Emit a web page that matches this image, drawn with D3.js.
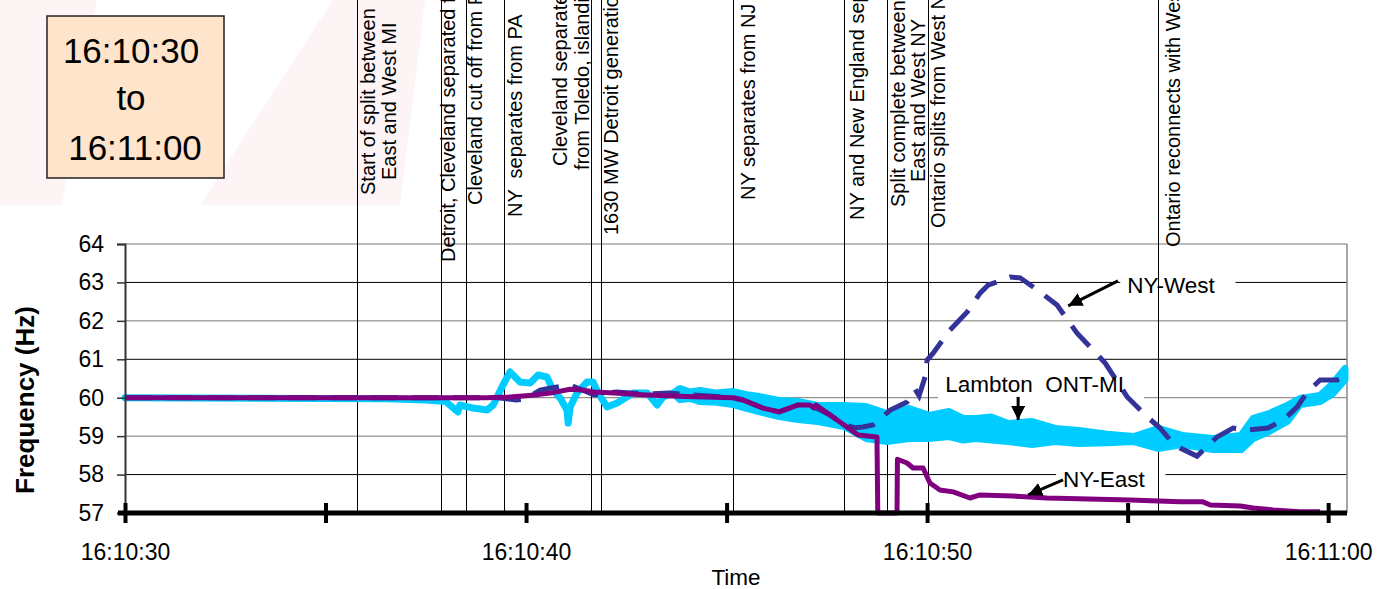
<!DOCTYPE html>
<html lang="en">
  <head>
    <meta charset="utf-8">
    <title>Frequency 16:10:30 to 16:11:00</title>
    <script src="https://cdn.jsdelivr.net/npm/d3@7"></script>
    <style>
      body { margin: 0; background: #fff; }
      svg { display: block; font-family: 'Liberation Sans', Arial, sans-serif; }
      text { white-space: pre; }
    </style>
  </head>
  <body>
    <div id="chart"></div>
    <script>
      // time is in seconds after 16:10:30
      const yTicks = [57, 58, 59, 60, 61, 62, 63, 64]
      const xTicks = [0, 5, 10, 15, 20, 25, 30]
      const xTickLabels = ['16:10:30', '', '16:10:40', '', '16:10:50', '', '16:11:00']

      const eventTimes = [5.79, 7.88, 8.5, 9.45, 11.62, 11.87, 15.16, 17.93, 19.0, 20.02, 25.76]
      const eventNotes = [
        ['Start of split between', 'East and West MI'],
        ['Detroit, Cleveland separated from West MI'],
        ['Cleveland cut off from PA'],
        ['NY  separates from PA'],
        ['Cleveland separates', 'from Toledo, islanding Cleveland'],
        ['1630 MW Detroit generation trips'],
        ['NY separates from NJ'],
        ['NY and New England separate'],
        ['Split complete between', 'East and West NY'],
        ['Ontario splits from West NY'],
        ['Ontario reconnects with West NY']
      ]

      // Lambton ONT-MI: lower / upper edge of the trace (equal where it is a thin line)
      const lambtonT = [0, 6.5, 7.5, 8.0, 8.3, 8.35, 8.68, 9.03, 9.18, 9.4, 9.6, 9.85, 10.1, 10.3, 10.52,
        10.67, 10.85, 11.02, 11.05, 11.1, 11.27, 11.52, 11.67, 11.8, 12.02, 12.27, 12.67, 13.02, 13.27,
        13.42, 13.67, 13.84, 14.09, 14.34, 14.75, 15.16, 15.5, 15.81, 16.31, 16.78, 17.28, 17.93, 18.48,
        19.0, 19.55, 20.05, 20.55, 20.9, 21.22, 21.6, 22.02, 22.62, 23.19, 23.79, 24.49, 25.16, 25.76,
        26.36, 27.13, 27.83, 28.13, 28.53, 28.98, 29.3, 29.8, 30.12, 30.42]
      const lambtonLo = [60.0, 59.97, 59.94, 59.9, 59.63, 59.81, 59.73, 59.68, 59.81, 60.28, 60.67, 60.41,
        60.38, 60.59, 60.54, 60.2, 59.99, 59.68, 59.34, 59.76, 60.12, 60.41, 60.41, 60.12, 59.76, 59.86,
        60.12, 60.12, 59.81, 60.02, 60.12, 59.95, 59.98, 59.9, 59.88, 59.82, 59.72, 59.64, 59.51, 59.43,
        59.38, 59.25, 58.94, 58.86, 58.94, 58.94, 58.99, 58.9, 58.94, 58.9, 58.86, 58.78, 58.86, 58.81,
        58.83, 58.86, 58.68, 58.78, 58.65, 58.65, 58.94, 59.12, 59.38, 59.82, 59.9, 60.11, 60.47]
      const lambtonHi = [60.0, 59.97, 59.94, 59.9, 59.63, 59.81, 59.73, 59.68, 59.81, 60.28, 60.67, 60.41,
        60.38, 60.59, 60.54, 60.2, 59.99, 59.68, 59.34, 59.76, 60.12, 60.41, 60.41, 60.12, 59.76, 59.86,
        60.12, 60.12, 59.81, 60.02, 60.12, 60.24, 60.15, 60.19, 60.12, 60.16, 60.08, 60.03, 59.93, 59.9,
        59.8, 59.8, 59.77, 59.59, 59.72, 59.54, 59.64, 59.46, 59.46, 59.5, 59.33, 59.38, 59.2, 59.15, 59.05,
        58.99, 59.2, 59.02, 58.94, 59.02, 59.46, 59.59, 59.8, 59.98, 60.06, 60.37, 60.76]

      // NY-West
      const nyWestT = [0, 9.3, 9.75, 10.0, 10.35, 10.6, 11.1, 11.7, 12.25, 13.0, 13.55, 15.16, 15.41,
        15.91, 16.31, 16.78, 17.08, 17.58, 17.93, 18.2, 18.4, 18.65, 19.08, 19.5, 19.7, 19.8, 19.95, 20.0,
        20.15, 20.57, 21.0, 21.32, 21.52, 22.07, 22.32, 22.82, 23.24, 23.74, 24.14, 24.44, 24.99, 25.49,
        25.81, 26.06, 26.31, 26.73, 27.23, 27.63, 27.98, 28.5, 28.88, 29.23, 29.48, 29.8, 30.22, 30.42]
      const nyWestHz = [60.0, 60.0, 59.94, 59.97, 60.2, 60.25, 60.33, 60.07, 60.15, 60.1, 60.12, 60.0,
        59.94, 59.73, 59.63, 59.81, 59.81, 59.55, 59.29, 59.22, 59.24, 59.29, 59.68, 59.89, 60.22, 60.05,
        60.54, 60.98, 61.16, 61.76, 62.23, 62.72, 62.93, 63.14, 63.12, 62.75, 62.41, 61.68, 61.24, 60.9,
        60.02, 59.5, 59.21, 58.9, 58.69, 58.48, 58.98, 59.21, 59.16, 59.21, 59.42, 59.76, 60.15, 60.46,
        60.46, 60.54]

      // NY-East
      const nyEastT = [0, 9.0, 9.6, 10.3, 10.6, 11.1, 11.4, 11.7, 12.2, 13.0, 14.0, 15.16, 15.41, 15.91,
        16.31, 16.78, 17.08, 17.18, 17.23, 17.58, 17.93, 18.28, 18.75, 18.77, 19.25, 19.26, 19.5, 19.65,
        19.9, 20.07, 20.32, 20.65, 21.07, 21.32, 22.14, 22.99, 25.06, 26.31, 26.88, 27.06, 27.81, 28.13,
        28.63, 29.3, 29.8]
      const nyEastHz = [60.0, 60.0, 60.02, 60.08, 60.12, 60.22, 60.2, 60.15, 60.12, 60.07, 60.03, 60.0,
        59.94, 59.73, 59.63, 59.81, 59.81, 59.73, 59.81, 59.55, 59.29, 59.03, 58.98, 57.0, 57.0, 58.4,
        58.3, 58.17, 58.17, 57.78, 57.6, 57.55, 57.39, 57.47, 57.44, 57.39, 57.34, 57.29, 57.29, 57.21,
        57.18, 57.13, 57.08, 57.03, 57.03]

      const colors = { lambton: '#00ccff', west: '#333399', east: '#800080' }

      // rotated note layout: [offset from event line, bottom of text] per text line
      const noteLayout = [
        [[11, 195], [32, 180]], [[7, 262]], [[9, 205]], [[11, 217]], [[-31, 166], [-9, 170]],
        [[10, 235]], [[15, 200]], [[13, 220]], [[11, 207], [31, 182]], [[10, 228]], [[15, 247]]
      ]
      // series callouts, in data units: label start, arrow from -> to
      const callouts = [
        { text: 'NY-West', t: 24.99, hz: 62.72, from: [24.76, 63.04], to: [23.52, 62.39] },
        { text: 'Lambton  ONT-MI', t: 20.45, hz: 60.15, from: [22.27, 60.02], to: [22.27, 59.42] },
        { text: 'NY-East', t: 23.39, hz: 57.68, from: [23.39, 57.86], to: [22.52, 57.47] }
      ]

      const W = 1378, H = 589
      const svg = d3.select('#chart').append('svg')
        .attr('width', W)
        .attr('height', H)

      const x = d3.scaleLinear().domain([0, 30.47]).range([125, 1347])
      const y = d3.scaleLinear().domain([57, 64]).range([513, 244])

      // faint slide background at the top left
      svg.append('polygon').attr('points', '0,0 97,0 62,205 0,205').attr('fill', '#fdf5f5')
      svg.append('polygon').attr('points', '333,0 425,0 400,205 200,205').attr('fill', '#fdf5f5')

      // time range box
      svg.append('rect')
        .attr('x', 47).attr('y', 16).attr('width', 177).attr('height', 162)
        .attr('fill', '#ffe4cc').attr('stroke', '#222').attr('stroke-width', 1.5)
      const boxText = [['16:10:30', 131, 63], ['to', 131, 110], ['16:11:00', 135, 160]]
      svg.selectAll('text.box').data(boxText).enter().append('text')
        .attr('class', 'box')
        .attr('x', d => d[1]).attr('y', d => d[2])
        .attr('text-anchor', 'middle')
        .attr('font-size', 35)
        .text(d => d[0])

      // horizontal gridlines
      svg.selectAll('line.grid')
        .data(yTicks.slice(1)).enter().append('line')
        .attr('class', 'grid')
        .attr('x1', x(0)).attr('x2', x.range()[1])
        .attr('y1', d => y(d)).attr('y2', d => y(d))
        .attr('stroke', d => (d === 63 || d === 61 || d === 58) ? '#000' : '#777')
        .attr('stroke-width', 1)
      // right border of the plot area
      svg.append('line')
        .attr('x1', x.range()[1]).attr('x2', x.range()[1])
        .attr('y1', y(64)).attr('y2', y(57))
        .attr('stroke', '#888').attr('stroke-width', 1.5)

      // white backgrounds of the callout labels (under the traces)
      const bgG = svg.append('g')

      // event lines and their notes
      svg.selectAll('line.event')
        .data(eventTimes).enter().append('line')
        .attr('class', 'event')
        .attr('x1', d => Math.round(x(d)) + 0.5).attr('x2', d => Math.round(x(d)) + 0.5)
        .attr('y1', 0).attr('y2', y(57))
        .attr('stroke', '#000').attr('stroke-width', 1)

      eventTimes.forEach((t, i) => {
        eventNotes[i].forEach((line, j) => {
          const [dx, bottom] = noteLayout[i][j]
          const bx = x(t) + dx + 7
          svg.append('text')
            .attr('x', bx).attr('y', bottom)
            .attr('transform', `rotate(-90, ${bx}, ${bottom})`)
            .attr('font-size', 20)
            .text(line)
        })
      })

      // traces
      const lamData = lambtonT.map((t, i) => ({ t, lo: lambtonLo[i], hi: lambtonHi[i] }))
      svg.append('path')
        .datum(lamData)
        .attr('d', d3.area().x(d => x(d.t)).y0(d => y(d.lo)).y1(d => y(d.hi)))
        .attr('fill', colors.lambton)
        .attr('stroke', colors.lambton)
        .attr('stroke-width', 7)
        .attr('stroke-linejoin', 'round')

      const line = d3.line().x(d => x(d[0])).y(d => y(d[1]))
      svg.append('path')
        .datum(nyWestT.map((t, i) => [t, nyWestHz[i]]))
        .attr('d', line)
        .attr('fill', 'none')
        .attr('stroke', colors.west)
        .attr('stroke-width', 5)
        .attr('stroke-dasharray', '27,14')

      svg.append('path')
        .datum(nyEastT.map((t, i) => [t, nyEastHz[i]]))
        .attr('d', line)
        .attr('fill', 'none')
        .attr('stroke', colors.east)
        .attr('stroke-width', 5)
        .attr('stroke-linejoin', 'round')

      // callout labels and arrows
      svg.append('defs').append('marker')
        .attr('id', 'head')
        .attr('markerUnits', 'userSpaceOnUse')
        .attr('markerWidth', 16).attr('markerHeight', 14)
        .attr('refX', 14).attr('refY', 7)
        .attr('orient', 'auto')
        .append('path').attr('d', 'M0,0 L14,7 L0,14 Z').attr('fill', '#000')

      const labelG = svg.append('g')
      callouts.forEach(c => {
        const tx = labelG.append('text')
          .attr('x', x(c.t)).attr('y', y(c.hz))
          .attr('font-size', 22.5)
          .text(c.text)
        const bb = tx.node().getBBox()
        bgG.append('rect')
          .attr('x', bb.x - 7).attr('y', bb.y + 1)
          .attr('width', bb.width + 27).attr('height', bb.height + 4)
          .attr('fill', '#fff')
        labelG.append('line')
          .attr('x1', x(c.from[0])).attr('y1', y(c.from[1]))
          .attr('x2', x(c.to[0])).attr('y2', y(c.to[1]))
          .attr('stroke', '#000').attr('stroke-width', 3)
          .attr('marker-end', 'url(#head)')
      })

      // y axis
      const yAxis = svg.append('g')
        .attr('transform', `translate(${x(0)},0)`)
        .call(d3.axisLeft(y).tickValues(yTicks).tickSize(8).tickPadding(13).tickFormat(d3.format('d')))
      yAxis.select('.domain').attr('stroke', '#333').attr('stroke-width', 2)
      yAxis.selectAll('.tick line').attr('stroke', '#333').attr('stroke-width', 1.5)
      yAxis.selectAll('text')
        .attr('font-family', "'Liberation Sans', Arial, sans-serif")
        .attr('font-size', 23).attr('fill', '#000')

      // x axis
      const xAxis = svg.append('g')
        .attr('transform', `translate(0,${y(57)})`)
        .call(d3.axisBottom(x).tickValues(xTicks).tickSize(10)
          .tickFormat((d, i) => xTickLabels[i]))
      xAxis.select('.domain').remove()
      xAxis.append('line')
        .attr('x1', x(0) - 7).attr('x2', x.range()[1])
        .attr('stroke', '#000').attr('stroke-width', 5)
      xAxis.selectAll('.tick line')
        .attr('y1', -10).attr('y2', 10)
        .attr('stroke', '#000').attr('stroke-width', 4)
      xAxis.selectAll('text')
        .attr('y', 31).attr('dy', '0.71em')
        .attr('font-family', "'Liberation Sans', Arial, sans-serif")
        .attr('font-size', 23).attr('fill', '#000')

      // axis titles
      svg.append('text')
        .attr('x', (x.range()[0] + x.range()[1]) / 2).attr('y', 585)
        .attr('text-anchor', 'middle')
        .attr('font-size', 22.5)
        .text('Time')
      svg.append('text')
        .attr('transform', 'translate(34,400) rotate(-90)')
        .attr('text-anchor', 'middle')
        .attr('font-size', 26)
        .attr('font-weight', 'bold')
        .text('Frequency (Hz)')
    </script>
  </body>
</html>
